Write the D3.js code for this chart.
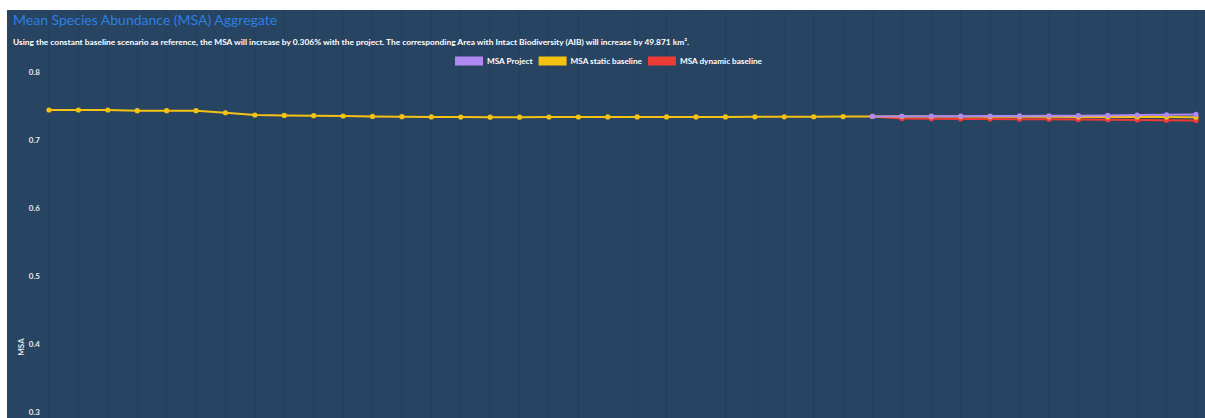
<!DOCTYPE html>
<html>
<head>
<meta charset="utf-8">
<script src="https://cdn.jsdelivr.net/npm/d3@7"></script>
<style>
body{margin:0;background:#fff;}
text{font-family:Lato,"Open Sans",sans-serif;}
</style>
</head>
<body>
<div id="chart"></div>
<script>
// chart data
var years=[1996,1997,1998,1999,2000,2001,2002,2003,2004,2005,2006,2007,2008,2009,2010,2011,2012,2013,2014,2015,
           2016,2017,2018,2019,2020,2021,2022,2023,2024,2025,2026,2027,2028,2029,2030,2031,2032,2033,2034,2035]
var staticBaseline=[0.7441,0.7441,0.7441,0.7431,0.7431,0.7431,0.7401,0.7368,0.7362,0.7357,
                    0.7353,0.7347,0.7343,0.7339,0.7337,0.7336,0.7336,0.7338,0.7338,0.7339,
                    0.7339,0.7339,0.7340,0.7340,0.7341,0.7341,0.7342,0.7344,0.7347,0.7346,
                    0.7345,0.7344,0.7343,0.7342,0.7341,0.7340,0.7339,0.7338,0.7337,0.7336]
var projectYears=[2024,2025,2026,2027,2028,2029,2030,2031,2032,2033,2034,2035]
var msaProject=[0.7347,0.7349,0.7350,0.7351,0.7352,0.7354,0.7356,0.7358,0.7362,0.7366,0.7370,0.7376]
var dynamicBaseline=[0.7347,0.7315,0.7312,0.7310,0.7308,0.7306,0.7304,0.7301,0.7298,0.7295,0.7292,0.7288]
var yTicks=[0.3,0.4,0.5,0.6,0.7,0.8]
var legendLabels=["MSA Project","MSA static baseline","MSA dynamic baseline"]

var svgWidth=1205
var svgHeight=418
var chartMargin={top:72,left:49,right:9}
var chartBottom=616

var colors={project:"#b089f2",static:"#f5c211",dynamic:"#ef3b36"}

var svg=d3.select("#chart")
    .append("svg")
    .attr("width",svgWidth)
    .attr("height",svgHeight)

svg.append("rect")
    .attr("x",7)
    .attr("y",10)
    .attr("width",svgWidth-7)
    .attr("height",svgHeight)
    .attr("fill","#284463")

var XScale=d3.scalePoint()
    .domain(years)
    .range([chartMargin.left,svgWidth-chartMargin.right])
var YScale=d3.scaleLinear()
    .domain([0,0.8])
    .range([chartBottom,chartMargin.top])

// faint vertical grid
svg.append("g")
    .selectAll("line")
    .data(years)
    .enter()
    .append("line")
    .attr("x1",d=>XScale(d))
    .attr("x2",d=>XScale(d))
    .attr("y1",10)
    .attr("y2",svgHeight)
    .attr("stroke","rgba(0,0,0,0.05)")
    .attr("stroke-width",1.5)

var leftAxis=d3.axisLeft(YScale)
    .tickValues(yTicks)
    .tickFormat(d3.format(".1f"))
    .tickSize(0)
    .tickPadding(9)
var yAxis=svg.append("g")
    .attr("transform",`translate(${chartMargin.left},0)`)
    .call(leftAxis)
yAxis.select(".domain").remove()
yAxis.selectAll("text")
    .attr("fill","#e4e8ee")
    .attr("font-size","8px")
    .attr("font-weight","bold")
    .attr("font-family","Lato, sans-serif")

svg.append("text")
    .attr("transform",`translate(24,${(chartBottom+chartMargin.top)/2+3}) rotate(-90)`)
    .attr("text-anchor","middle")
    .attr("fill","#e4e8ee")
    .attr("font-size","8px")
    .attr("font-weight","bold")
    .text("MSA")

// title and subtitle
svg.append("text")
    .attr("x",13)
    .attr("y",25)
    .attr("fill","#2d7fe0")
    .attr("font-size","14px")
    .text("Mean Species Abundance (MSA) Aggregate")
svg.append("text")
    .attr("x",13)
    .attr("y",45)
    .attr("fill","#ffffff")
    .attr("font-size","8.4px")
    .attr("font-weight","bold")
    .text("Using the constant baseline scenario as reference, the MSA will increase by 0.306% with the project. The corresponding Area with Intact Biodiversity (AIB) will increase by 49.871 km².")

// lines
var lineGen=d3.line()
    .x(d=>XScale(d[0]))
    .y(d=>YScale(d[1]))

var series=[
    {key:"dynamic",pts:projectYears.map((y,i)=>[y,dynamicBaseline[i]])},
    {key:"static",pts:years.map((y,i)=>[y,staticBaseline[i]])},
    {key:"project",pts:projectYears.map((y,i)=>[y,msaProject[i]])}
]

series.forEach(s=>{
    svg.append("path")
        .datum(s.pts)
        .attr("d",lineGen)
        .attr("fill","none")
        .attr("stroke",colors[s.key])
        .attr("stroke-width",2)
    svg.append("g")
        .selectAll("circle")
        .data(s.pts)
        .enter()
        .append("circle")
        .attr("cx",d=>XScale(d[0]))
        .attr("cy",d=>YScale(d[1]))
        .attr("r",2.6)
        .attr("fill",colors[s.key])
})

// legend
var legendColors=[colors.project,colors.static,colors.dynamic]
var legend=svg.append("g")
var lx=455
legendLabels.forEach((lab,i)=>{
    legend.append("rect")
        .attr("x",lx)
        .attr("y",56.5)
        .attr("width",28)
        .attr("height",9)
        .attr("fill",legendColors[i])
    var t=legend.append("text")
        .attr("x",lx+32)
        .attr("y",64)
        .attr("fill","#ffffff")
        .attr("font-size","8.2px")
        .attr("font-weight","bold")
        .text(lab)
    lx=lx+32+t.node().getComputedTextLength()+6
})
</script>
</body>
</html>
